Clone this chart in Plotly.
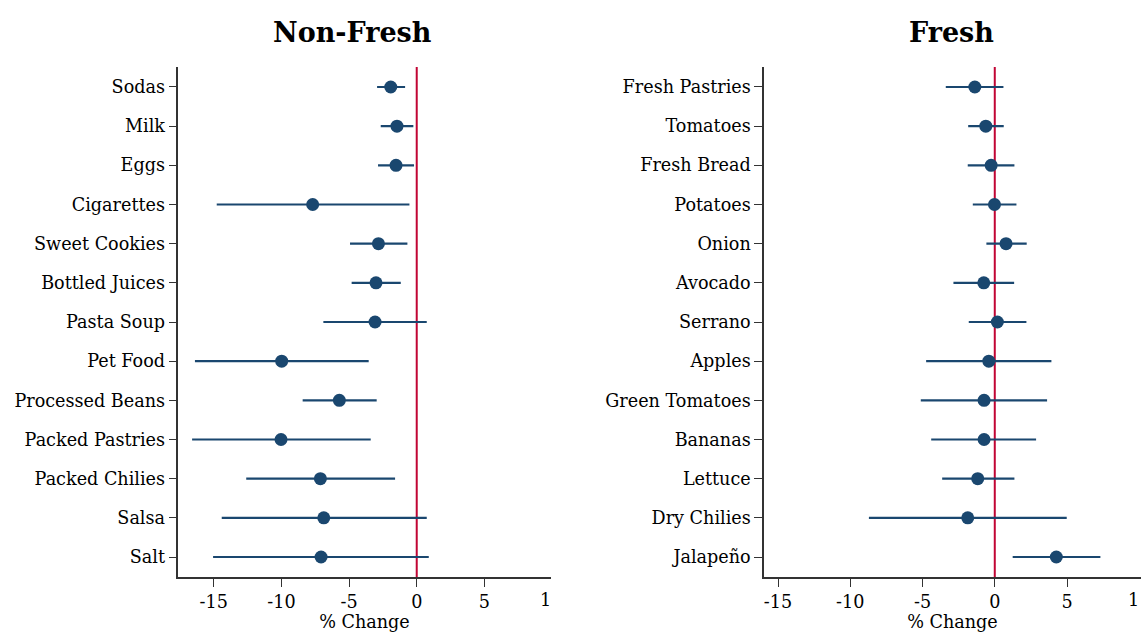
import plotly.graph_objects as go

# ---------------- data ----------------
nonfresh_items = ["Sodas", "Milk", "Eggs", "Cigarettes", "Sweet Cookies", "Bottled Juices",
                  "Pasta Soup", "Pet Food", "Processed Beans", "Packed Pastries",
                  "Packed Chilies", "Salsa", "Salt"]
nonfresh_est = [-1.92, -1.46, -1.53, -7.69, -2.83, -3.01, -3.08, -9.98, -5.72, -10.03, -7.12, -6.87, -7.07]
nonfresh_lo = [-2.93, -2.66, -2.86, -14.78, -4.93, -4.81, -6.90, -16.39, -8.43, -16.60, -12.60, -14.41, -15.05]
nonfresh_hi = [-0.86, -0.25, -0.20, -0.54, -0.69, -1.18, 0.74, -3.55, -2.96, -3.40, -1.60, 0.74, 0.89]

fresh_items = ["Fresh Pastries", "Tomatoes", "Fresh Bread", "Potatoes", "Onion", "Avocado",
               "Serrano", "Apples", "Green Tomatoes", "Bananas", "Lettuce", "Dry Chilies", "Jalapeño"]
fresh_est = [-1.38, -0.62, -0.25, -0.02, 0.78, -0.76, 0.18, -0.41, -0.74, -0.74, -1.18, -1.87, 4.26]
fresh_lo = [-3.39, -1.84, -1.87, -1.52, -0.58, -2.86, -1.80, -4.75, -5.12, -4.40, -3.64, -8.71, 1.24]
fresh_hi = [0.60, 0.62, 1.36, 1.50, 2.21, 1.34, 2.19, 3.92, 3.62, 2.86, 1.36, 4.98, 7.31]

x_ticks = [-15, -10, -5, 0, 5]
x_ticktext = ["-15", "-10", "-5", "0", "5"]
x_clipped_tick = "1"          # the "10" tick label is cut off at the panel edge in the original
panel_titles = ["Non-Fresh", "Fresh"]
x_title = "% Change"

# ---------------- style ----------------
W, H = 1141, 633
NAVY = "#1a476f"
RED = "#c10534"
AXIS = "#333333"
FONT = "DejaVu Serif"
FS = 17.6

fig = go.Figure()


def add_panel(items, est, lo, hi, xa, ya):
    plus = [h - e for h, e in zip(hi, est)]
    minus = [e - l for e, l in zip(est, lo)]
    fig.add_trace(go.Scatter(
        x=est, y=items, mode="markers",
        marker=dict(color=NAVY, size=13, line=dict(width=0)),
        error_x=dict(type="data", array=plus, arrayminus=minus, symmetric=False,
                     color=NAVY, thickness=2.2, width=0),
        xaxis=xa, yaxis=ya, showlegend=False, cliponaxis=False,
    ))


add_panel(nonfresh_items, nonfresh_est, nonfresh_lo, nonfresh_hi, "x", "y")
add_panel(fresh_items, fresh_est, fresh_lo, fresh_hi, "x2", "y2")

ydom = [(H - 577) / H, (H - 67) / H]

common_x = dict(
    tickvals=x_ticks, ticktext=x_ticktext, ticks="outside", ticklen=8, tickwidth=1.3,
    tickcolor=AXIS, showline=True, linecolor=AXIS, linewidth=1.5, showgrid=False,
    zeroline=False, tickfont=dict(family=FONT, size=FS, color="black"),
    title=dict(text=x_title, font=dict(family=FONT, size=FS, color="black"), standoff=3),
    automargin=False,
)
common_y = dict(
    type="category", ticks="outside", ticklen=8, tickwidth=1.3, tickcolor=AXIS,
    showline=True, linecolor=AXIS, linewidth=1.5, showgrid=False, zeroline=False,
    tickfont=dict(family=FONT, size=FS, color="black"), automargin=False,
    range=[12.51, -0.51], domain=ydom,
)

fig.update_layout(
    width=W, height=H,
    margin=dict(l=0, r=0, t=0, b=0),
    paper_bgcolor="white", plot_bgcolor="white",
    xaxis=dict(common_x, domain=[178.3 / W, 550.7 / W], range=[-17.62, 9.9], anchor="y"),
    yaxis=dict(common_y, categoryorder="array", categoryarray=nonfresh_items, anchor="x"),
    xaxis2=dict(common_x, domain=[764 / W, 1.0], range=[-15.97, 10.12], anchor="y2"),
    yaxis2=dict(common_y, categoryorder="array", categoryarray=fresh_items, anchor="x2"),
)

# zero reference lines
for xr in ["x", "x2"]:
    fig.add_shape(type="line", xref=xr, yref="paper", x0=0, x1=0, y0=ydom[0], y1=ydom[1],
                  line=dict(color=RED, width=2), layer="below")

# panel titles
for txt, cx in zip(panel_titles, [352.7, 951]):
    fig.add_annotation(text="<b>" + txt + "</b>", x=cx / W, y=1 - 32 / H,
                       xref="paper", yref="paper", xanchor="center", yanchor="middle",
                       showarrow=False, font=dict(family=FONT, size=27, color="black"))

# clipped "10" tick labels (only the leading digit is visible in the original)
for px in [553, 1140.5]:
    fig.add_annotation(text=x_clipped_tick, x=px / W, y=1 - 600 / H, xref="paper", yref="paper",
                       xanchor="right", yanchor="middle", showarrow=False,
                       font=dict(family=FONT, size=FS, color="black"))

fig.write_html("out.html")
